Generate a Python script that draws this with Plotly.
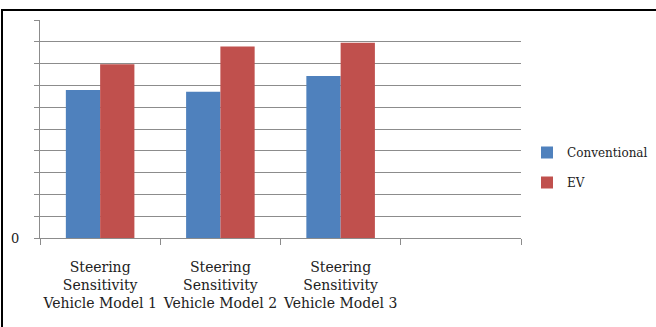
import plotly.graph_objects as go

categories = [
    "Steering<br>Sensitivity<br>Vehicle Model 1",
    "Steering<br>Sensitivity<br>Vehicle Model 2",
    "Steering<br>Sensitivity<br>Vehicle Model 3",
    " ",
]
conventional = [6.79, 6.71, 7.43, None]
ev = [7.97, 8.78, 8.96, None]
y_ticks = list(range(0, 11))
y_tick_labels = ["0"] + [""] * 10

FONT = "DejaVu Serif"
GRID = "#8c8c8c"

fig = go.Figure()
fig.add_bar(name="Conventional", x=categories, y=conventional,
            marker=dict(color="#4F81BD", line=dict(width=0)), legendgroup="a")
fig.add_bar(name="EV", x=categories, y=ev,
            marker=dict(color="#C0504D", line=dict(width=0)), legendgroup="b")

W, H = 656, 327
L, R, T, B = 40, 521, 20, 238
pw, ph = R - L, B - T


def px(x):
    return (x - L) / pw


def py(y):
    return (B - y) / ph


fig.update_layout(
    width=W, height=H,
    margin=dict(l=L, r=W - R, t=T, b=H - B, pad=0, autoexpand=False),
    paper_bgcolor="white", plot_bgcolor="white",
    barmode="group", bargap=0.43, bargroupgap=0,
    font=dict(family=FONT, size=13, color="#222"),
    showlegend=True,
    legend=dict(x=px(527), y=py(138), xanchor="left", yanchor="top",
                traceorder="grouped", tracegroupgap=11,
                font=dict(family=FONT, size=12, color="#222"),
                itemwidth=30, bgcolor="rgba(0,0,0,0)"),
    xaxis=dict(type="category", showgrid=False, showline=True, linecolor=GRID,
               linewidth=1, ticks="outside", tickson="boundaries", ticklen=6,
               tickcolor=GRID, tickwidth=1, tickangle=0, automargin=False,
               ticklabelstandoff=16,
               tickfont=dict(family=FONT, size=14)),
    yaxis=dict(range=[0, 10], tickvals=y_ticks, ticktext=y_tick_labels,
               showgrid=True, gridcolor=GRID, gridwidth=1, zeroline=False,
               showline=True, linecolor=GRID, linewidth=1, ticks="outside",
               ticklen=5, tickcolor=GRID, tickfont=dict(family=FONT, size=13),
               ticklabelstandoff=12, automargin=False),
    shapes=[
        dict(type="line", xref="paper", yref="paper", x0=px(1), x1=px(656),
             y0=py(10), y1=py(10), line=dict(color="black", width=2)),
        dict(type="line", xref="paper", yref="paper", x0=px(2), x1=px(2),
             y0=py(10), y1=py(327), line=dict(color="black", width=2)),
    ],
)

fig.write_html("out.html", config={"displayModeBar": False})
